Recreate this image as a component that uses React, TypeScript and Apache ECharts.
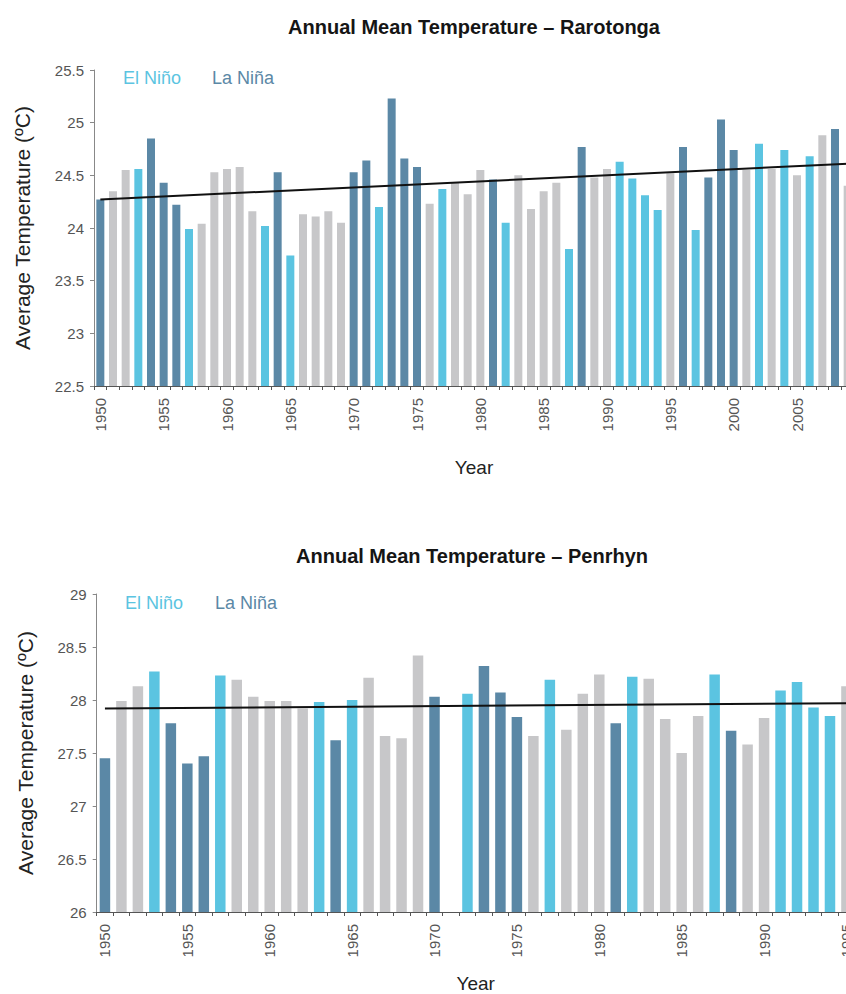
import React, { useEffect, useRef } from "react";
import * as echarts from "echarts";

// ---------- Data ----------
const raroYears = [
  "1950","1951","1952","1953","1954","1955","1956","1957","1958","1959",
  "1960","1961","1962","1963","1964","1965","1966","1967","1968","1969",
  "1970","1971","1972","1973","1974","1975","1976","1977","1978","1979",
  "1980","1981","1982","1983","1984","1985","1986","1987","1988","1989",
  "1990","1991","1992","1993","1994","1995","1996","1997","1998","1999",
  "2000","2001","2002","2003","2004","2005","2006","2007","2008","2009",
];
const raroTemp = [
  24.27, 24.35, 24.55, 24.56, 24.85, 24.43, 24.22, 23.99, 24.04, 24.53,
  24.56, 24.58, 24.16, 24.02, 24.53, 23.74, 24.13, 24.11, 24.16, 24.05,
  24.53, 24.64, 24.20, 25.23, 24.66, 24.58, 24.23, 24.37, 24.43, 24.32,
  24.55, 24.46, 24.05, 24.50, 24.18, 24.35, 24.43, 23.80, 24.77, 24.48,
  24.56, 24.63, 24.47, 24.31, 24.17, 24.52, 24.77, 23.98, 24.48, 25.03,
  24.74, 24.55, 24.80, 24.56, 24.74, 24.50, 24.68, 24.88, 24.94, 24.40,
];
// E = El Niño, L = La Niña, N = neutral
const raroPhase = [
  "L","N","N","E","L","L","L","E","N","N",
  "N","N","N","E","L","E","N","N","N","N",
  "L","L","E","L","L","L","N","E","N","N",
  "N","L","E","N","N","N","N","E","L","N",
  "N","E","E","E","E","N","L","E","L","L",
  "L","N","E","N","E","N","E","N","L","N",
];
const raroTrend = [24.27, 24.61]; // 1950, 2009

const penYears = [
  "1950","1951","1952","1953","1954","1955","1956","1957","1958","1959",
  "1960","1961","1962","1963","1964","1965","1966","1967","1968","1969",
  "1970","1971","1972","1973","1974","1975","1976","1977","1978","1979",
  "1980","1981","1982","1983","1984","1985","1986","1987","1988","1989",
  "1990","1991","1992","1993","1994","1995",
];
const penTemp = [
  27.45, 27.99, 28.13, 28.27, 27.78, 27.40, 27.47, 28.23, 28.19, 28.03,
  27.99, 27.99, 27.92, 27.98, 27.62, 28.00, 28.21, 27.66, 27.64, 28.42,
  28.03, null, 28.06, 28.32, 28.07, 27.84, 27.66, 28.19, 27.72, 28.06,
  28.24, 27.78, 28.22, 28.20, 27.82, 27.50, 27.85, 28.24, 27.71, 27.58,
  27.83, 28.09, 28.17, 27.93, 27.85, 28.13,
];
const penPhase = [
  "L","N","N","E","L","L","L","E","N","N",
  "N","N","N","E","L","E","N","N","N","N",
  "L","N","E","L","L","L","N","E","N","N",
  "N","L","E","N","N","N","N","E","L","N",
  "N","E","E","E","E","N",
];
const penTrend = [27.92, 27.97]; // 1950, 1995

const phaseColor: Record<string, string> = {
  E: "#5BC4E1",
  L: "#5B88A6",
  N: "#C7C7C9",
};

const FONT = "'Liberation Sans', Arial, Helvetica, sans-serif";

function barData(values: (number | null)[], phases: string[]) {
  return values.map((v, i) => ({
    value: v,
    itemStyle: { color: phaseColor[phases[i]] },
  }));
}

function xAxisFor(gridIndex: number, cats: string[], gap: number) {
  return {
    type: "category",
    gridIndex,
    data: cats,
    name: "Year",
    nameLocation: "middle",
    nameGap: gap,
    nameTextStyle: { fontFamily: FONT, fontSize: 19, color: "#222" },
    axisLine: { show: true, lineStyle: { color: "#555", width: 1 } },
    axisTick: { show: true, interval: 0, length: 4, lineStyle: { color: "#555" } },
    axisLabel: {
      interval: 4,
      rotate: 90,
      margin: 12,
      fontFamily: FONT,
      fontSize: 15,
      color: "#555",
    },
    splitLine: { show: false },
  };
}

function yAxisFor(gridIndex: number, min: number, max: number) {
  return {
    type: "value",
    gridIndex,
    min,
    max,
    interval: 0.5,
    name: "Average Temperature (ºC)",
    nameLocation: "middle",
    nameRotate: 90,
    nameGap: 61,
    nameTextStyle: { fontFamily: FONT, fontSize: 21, color: "#222" },
    axisLine: { show: true, lineStyle: { color: "#888", width: 1 } },
    axisTick: { show: true, length: 4, lineStyle: { color: "#888" } },
    axisLabel: {
      margin: 10,
      fontFamily: FONT,
      fontSize: 15,
      color: "#555",
    },
    splitLine: { show: false },
  };
}

export default function App() {
  const ref = useRef<HTMLDivElement>(null);

  useEffect(() => {
    if (!ref.current) return;
    const chart = echarts.init(ref.current, undefined, { renderer: "svg" });

    const titleStyle = {
      fontFamily: FONT,
      fontSize: 20,
      fontWeight: "bold",
      fill: "#151515",
      align: "center",
      verticalAlign: "middle",
    };
    const legendStyle = {
      fontFamily: FONT,
      fontSize: 18,
      verticalAlign: "middle",
    };

    const option = {
      animation: false,
      backgroundColor: "#ffffff",
      grid: [
        { left: 94, top: 70, width: 760, height: 316, containLabel: false },
        { left: 96.7, top: 594, width: 758, height: 319, containLabel: false },
      ],
      xAxis: [xAxisFor(0, raroYears, 72), xAxisFor(1, penYears, 62)],
      yAxis: [yAxisFor(0, 22.5, 25.5), yAxisFor(1, 26, 29)],
      graphic: [
        {
          type: "text",
          x: 474,
          y: 27,
          style: { ...titleStyle, text: "Annual Mean Temperature – Rarotonga" },
        },
        {
          type: "text",
          x: 472,
          y: 556,
          style: { ...titleStyle, text: "Annual Mean Temperature – Penrhyn" },
        },
        {
          type: "text",
          x: 123,
          y: 78,
          style: { ...legendStyle, text: "El Niño", fill: phaseColor.E },
        },
        {
          type: "text",
          x: 212,
          y: 78,
          style: { ...legendStyle, text: "La Niña", fill: phaseColor.L },
        },
        {
          type: "text",
          x: 125,
          y: 603,
          style: { ...legendStyle, text: "El Niño", fill: phaseColor.E },
        },
        {
          type: "text",
          x: 215,
          y: 603,
          style: { ...legendStyle, text: "La Niña", fill: phaseColor.L },
        },
      ],
      series: [
        {
          type: "bar",
          xAxisIndex: 0,
          yAxisIndex: 0,
          barWidth: 8,
          data: barData(raroTemp, raroPhase),
        },
        {
          type: "line",
          xAxisIndex: 0,
          yAxisIndex: 0,
          symbol: "none",
          lineStyle: { color: "#111", width: 2 },
          data: [
            [raroYears[0], raroTrend[0]],
            [raroYears[raroYears.length - 1], raroTrend[1]],
          ],
          z: 5,
        },
        {
          type: "bar",
          xAxisIndex: 1,
          yAxisIndex: 1,
          barWidth: 10.5,
          data: barData(penTemp, penPhase),
        },
        {
          type: "line",
          xAxisIndex: 1,
          yAxisIndex: 1,
          symbol: "none",
          lineStyle: { color: "#111", width: 2 },
          data: [
            [penYears[0], penTrend[0]],
            [penYears[penYears.length - 1], penTrend[1]],
          ],
          z: 5,
        },
      ],
    };

    chart.setOption(option as any);
    return () => chart.dispose();
  }, []);

  // The chart is wider than the 846px window on purpose: the reference
  // figure is cropped at its right edge.
  return (
    <div
      ref={ref}
      style={{ position: "fixed", left: 0, top: 0, width: 880, height: 994, background: "#fff" }}
    />
  );
}
